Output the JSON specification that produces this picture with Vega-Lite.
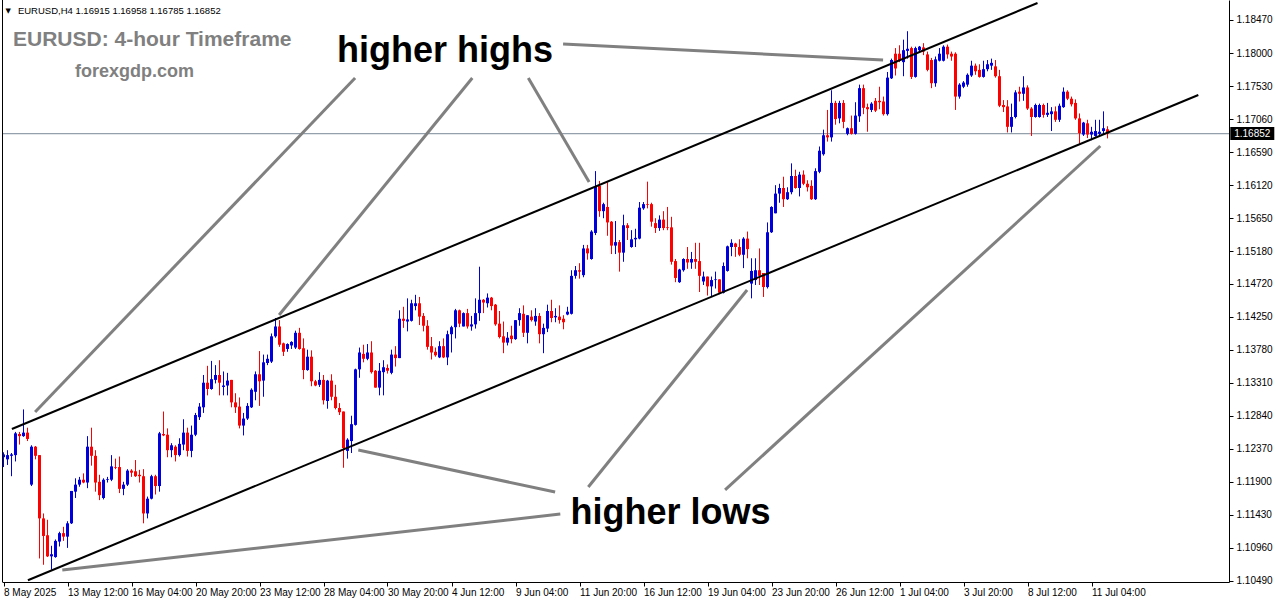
{
"$schema": "https://vega.github.io/schema/vega-lite/v6.json",
"width": 1227, "height": 582,
"autosize": {"type": "none"},
"padding": {"left": 2, "top": 0, "right": 47, "bottom": 22},
"background": "white",
"config": {"view": {"stroke": null},
 "axisRight": {"labelOverlap": false, "labelFlush": false, "labelFont": "Liberation Sans", "labelFontSize": 10, "labelColor": "black", "tickSize": 4, "labelPadding": 3, "domainColor": "black", "tickColor": "black", "grid": false},
 "axisBottom": {"labelOverlap": false, "labelFlush": false, "labelFont": "Liberation Sans", "labelFontSize": 10, "labelColor": "black", "tickSize": 4, "labelPadding": 1, "labelAlign": "left", "labelOffset": 0, "domainColor": "black", "tickColor": "black", "grid": false}},
"datasets": {
"candles": [
{"i":1,"o":1.1225,"h":1.1232,"l":1.1211,"c":1.1229},{"i":2,"o":1.1222,"h":1.1235,"l":1.1214,"c":1.1228},{"i":3,"o":1.1227,"h":1.1231,"l":1.1198,"c":1.1229},{"i":4,"o":1.1228,"h":1.1261,"l":1.1219,"c":1.1259},{"i":5,"o":1.1258,"h":1.1261,"l":1.1243,"c":1.1255},{"i":6,"o":1.1255,"h":1.1293,"l":1.1254,"c":1.1260},{"i":7,"o":1.1260,"h":1.1267,"l":1.1248,"c":1.1251},{"i":8,"o":1.1186,"h":1.1242,"l":1.1184,"c":1.1240},{"i":9,"o":1.1240,"h":1.1241,"l":1.1222,"c":1.1227},{"i":10,"o":1.1228,"h":1.1228,"l":1.1081,"c":1.1138},
{"i":11,"o":1.1138,"h":1.1145,"l":1.1072,"c":1.1113},{"i":12,"o":1.1114,"h":1.1136,"l":1.1083,"c":1.1084},{"i":13,"o":1.1084,"h":1.1099,"l":1.1065,"c":1.1087},{"i":14,"o":1.1083,"h":1.1108,"l":1.1082,"c":1.1106},{"i":15,"o":1.1105,"h":1.1119,"l":1.1098,"c":1.1117},{"i":16,"o":1.1117,"h":1.1126,"l":1.1106,"c":1.1112},{"i":17,"o":1.1112,"h":1.1134,"l":1.1096,"c":1.1131},{"i":18,"o":1.1131,"h":1.1177,"l":1.1130,"c":1.1177},{"i":19,"o":1.1176,"h":1.1195,"l":1.1167,"c":1.1186},{"i":20,"o":1.1186,"h":1.1197,"l":1.1183,"c":1.1193},
{"i":21,"o":1.1193,"h":1.1202,"l":1.1188,"c":1.1189},{"i":22,"o":1.1189,"h":1.1255,"l":1.1181,"c":1.1240},{"i":23,"o":1.1240,"h":1.1267,"l":1.1213,"c":1.1227},{"i":24,"o":1.1227,"h":1.1235,"l":1.1176,"c":1.1189},{"i":25,"o":1.1190,"h":1.1200,"l":1.1164,"c":1.1171},{"i":26,"o":1.1167,"h":1.1195,"l":1.1165,"c":1.1193},{"i":27,"o":1.1193,"h":1.1197,"l":1.1189,"c":1.1194},{"i":28,"o":1.1193,"h":1.1228,"l":1.1191,"c":1.1212},{"i":29,"o":1.1211,"h":1.1223,"l":1.1208,"c":1.1210},{"i":30,"o":1.1211,"h":1.1226,"l":1.1174,"c":1.1180},
{"i":31,"o":1.1180,"h":1.1190,"l":1.1171,"c":1.1186},{"i":32,"o":1.1186,"h":1.1208,"l":1.1184,"c":1.1206},{"i":33,"o":1.1206,"h":1.1208,"l":1.1197,"c":1.1203},{"i":34,"o":1.1205,"h":1.1221,"l":1.1197,"c":1.1198},{"i":35,"o":1.1200,"h":1.1207,"l":1.1189,"c":1.1198},{"i":36,"o":1.1198,"h":1.1208,"l":1.1131,"c":1.1145},{"i":37,"o":1.1145,"h":1.1169,"l":1.1138,"c":1.1166},{"i":38,"o":1.1166,"h":1.1200,"l":1.1165,"c":1.1198},{"i":39,"o":1.1198,"h":1.1200,"l":1.1172,"c":1.1184},{"i":40,"o":1.1184,"h":1.1261,"l":1.1176,"c":1.1259},
{"i":41,"o":1.1258,"h":1.1290,"l":1.1255,"c":1.1256},{"i":42,"o":1.1257,"h":1.1266,"l":1.1225,"c":1.1235},{"i":43,"o":1.1235,"h":1.1245,"l":1.1225,"c":1.1242},{"i":44,"o":1.1240,"h":1.1242,"l":1.1219,"c":1.1228},{"i":45,"o":1.1228,"h":1.1252,"l":1.1226,"c":1.1244},{"i":46,"o":1.1243,"h":1.1279,"l":1.1235,"c":1.1260},{"i":47,"o":1.1260,"h":1.1267,"l":1.1226,"c":1.1234},{"i":48,"o":1.1234,"h":1.1270,"l":1.1225,"c":1.1257},{"i":49,"o":1.1257,"h":1.1288,"l":1.1255,"c":1.1285},{"i":50,"o":1.1282,"h":1.1302,"l":1.1278,"c":1.1297},
{"i":51,"o":1.1296,"h":1.1342,"l":1.1288,"c":1.1331},{"i":52,"o":1.1331,"h":1.1355,"l":1.1313,"c":1.1322},{"i":53,"o":1.1322,"h":1.1362,"l":1.1321,"c":1.1336},{"i":54,"o":1.1335,"h":1.1356,"l":1.1330,"c":1.1342},{"i":55,"o":1.1342,"h":1.1363,"l":1.1313,"c":1.1331},{"i":56,"o":1.1325,"h":1.1347,"l":1.1313,"c":1.1327},{"i":57,"o":1.1327,"h":1.1345,"l":1.1313,"c":1.1334},{"i":58,"o":1.1335,"h":1.1335,"l":1.1296,"c":1.1303},{"i":59,"o":1.1303,"h":1.1316,"l":1.1288,"c":1.1296},{"i":60,"o":1.1297,"h":1.1310,"l":1.1266,"c":1.1270},
{"i":61,"o":1.1270,"h":1.1288,"l":1.1256,"c":1.1280},{"i":62,"o":1.1280,"h":1.1302,"l":1.1278,"c":1.1298},{"i":63,"o":1.1296,"h":1.1323,"l":1.1295,"c":1.1321},{"i":64,"o":1.1318,"h":1.1347,"l":1.1306,"c":1.1343},{"i":65,"o":1.1343,"h":1.1376,"l":1.1298,"c":1.1333},{"i":66,"o":1.1334,"h":1.1371,"l":1.1311,"c":1.1360},{"i":67,"o":1.1359,"h":1.1371,"l":1.1356,"c":1.1365},{"i":68,"o":1.1361,"h":1.1401,"l":1.1359,"c":1.1397},{"i":69,"o":1.1397,"h":1.1423,"l":1.1395,"c":1.1411},{"i":70,"o":1.1411,"h":1.1420,"l":1.1382,"c":1.1385},
{"i":71,"o":1.1387,"h":1.1388,"l":1.1369,"c":1.1375},{"i":72,"o":1.1379,"h":1.1387,"l":1.1375,"c":1.1386},{"i":73,"o":1.1384,"h":1.1390,"l":1.1379,"c":1.1389},{"i":74,"o":1.1381,"h":1.1405,"l":1.1379,"c":1.1402},{"i":75,"o":1.1402,"h":1.1409,"l":1.1378,"c":1.1379},{"i":76,"o":1.1380,"h":1.1394,"l":1.1336,"c":1.1349},{"i":77,"o":1.1349,"h":1.1378,"l":1.1348,"c":1.1368},{"i":78,"o":1.1368,"h":1.1377,"l":1.1326,"c":1.1333},{"i":79,"o":1.1333,"h":1.1335,"l":1.1326,"c":1.1327},{"i":80,"o":1.1328,"h":1.1346,"l":1.1325,"c":1.1335},
{"i":81,"o":1.1335,"h":1.1342,"l":1.1300,"c":1.1306},{"i":82,"o":1.1305,"h":1.1335,"l":1.1294,"c":1.1334},{"i":83,"o":1.1334,"h":1.1343,"l":1.1306,"c":1.1311},{"i":84,"o":1.1311,"h":1.1328,"l":1.1293,"c":1.1295},{"i":85,"o":1.1295,"h":1.1302,"l":1.1285,"c":1.1289},{"i":86,"o":1.1290,"h":1.1290,"l":1.1210,"c":1.1238},{"i":87,"o":1.1234,"h":1.1252,"l":1.1223,"c":1.1250},{"i":88,"o":1.1248,"h":1.1284,"l":1.1231,"c":1.1272},{"i":89,"o":1.1271,"h":1.1351,"l":1.1270,"c":1.1350},{"i":90,"o":1.1350,"h":1.1381,"l":1.1338,"c":1.1374},
{"i":91,"o":1.1372,"h":1.1385,"l":1.1360,"c":1.1365},{"i":92,"o":1.1365,"h":1.1386,"l":1.1363,"c":1.1374},{"i":93,"o":1.1374,"h":1.1390,"l":1.1344,"c":1.1346},{"i":94,"o":1.1348,"h":1.1349,"l":1.1324,"c":1.1324},{"i":95,"o":1.1324,"h":1.1359,"l":1.1313,"c":1.1348},{"i":96,"o":1.1346,"h":1.1363,"l":1.1313,"c":1.1353},{"i":97,"o":1.1352,"h":1.1357,"l":1.1344,"c":1.1348},{"i":98,"o":1.1345,"h":1.1378,"l":1.1343,"c":1.1371},{"i":99,"o":1.1371,"h":1.1383,"l":1.1354,"c":1.1366},{"i":100,"o":1.1366,"h":1.1434,"l":1.1366,"c":1.1422},
{"i":101,"o":1.1422,"h":1.1439,"l":1.1409,"c":1.1419},{"i":102,"o":1.1418,"h":1.1451,"l":1.1404,"c":1.1421},{"i":103,"o":1.1419,"h":1.1449,"l":1.1418,"c":1.1444},{"i":104,"o":1.1440,"h":1.1456,"l":1.1434,"c":1.1444},{"i":105,"o":1.1444,"h":1.1453,"l":1.1413,"c":1.1425},{"i":106,"o":1.1426,"h":1.1430,"l":1.1404,"c":1.1412},{"i":107,"o":1.1412,"h":1.1420,"l":1.1378,"c":1.1382},{"i":108,"o":1.1383,"h":1.1396,"l":1.1364,"c":1.1374},{"i":109,"o":1.1375,"h":1.1381,"l":1.1368,"c":1.1370},{"i":110,"o":1.1367,"h":1.1390,"l":1.1366,"c":1.1383},
{"i":111,"o":1.1383,"h":1.1394,"l":1.1366,"c":1.1367},{"i":112,"o":1.1367,"h":1.1405,"l":1.1356,"c":1.1400},{"i":113,"o":1.1400,"h":1.1412,"l":1.1374,"c":1.1410},{"i":114,"o":1.1410,"h":1.1436,"l":1.1394,"c":1.1434},{"i":115,"o":1.1434,"h":1.1435,"l":1.1410,"c":1.1415},{"i":116,"o":1.1411,"h":1.1431,"l":1.1411,"c":1.1430},{"i":117,"o":1.1430,"h":1.1436,"l":1.1408,"c":1.1411},{"i":118,"o":1.1411,"h":1.1426,"l":1.1405,"c":1.1414},{"i":119,"o":1.1414,"h":1.1451,"l":1.1408,"c":1.1430},{"i":120,"o":1.1430,"h":1.1496,"l":1.1419,"c":1.1449},
{"i":121,"o":1.1449,"h":1.1450,"l":1.1430,"c":1.1445},{"i":122,"o":1.1444,"h":1.1458,"l":1.1438,"c":1.1452},{"i":123,"o":1.1452,"h":1.1453,"l":1.1434,"c":1.1440},{"i":124,"o":1.1442,"h":1.1443,"l":1.1412,"c":1.1414},{"i":125,"o":1.1415,"h":1.1433,"l":1.1394,"c":1.1396},{"i":126,"o":1.1397,"h":1.1418,"l":1.1373,"c":1.1388},{"i":127,"o":1.1388,"h":1.1403,"l":1.1384,"c":1.1395},{"i":128,"o":1.1398,"h":1.1412,"l":1.1387,"c":1.1393},{"i":129,"o":1.1393,"h":1.1420,"l":1.1392,"c":1.1420},{"i":130,"o":1.1420,"h":1.1437,"l":1.1412,"c":1.1430},
{"i":131,"o":1.1429,"h":1.1441,"l":1.1396,"c":1.1402},{"i":132,"o":1.1402,"h":1.1427,"l":1.1387,"c":1.1427},{"i":133,"o":1.1425,"h":1.1434,"l":1.1418,"c":1.1420},{"i":134,"o":1.1418,"h":1.1437,"l":1.1412,"c":1.1426},{"i":135,"o":1.1426,"h":1.1430,"l":1.1387,"c":1.1400},{"i":136,"o":1.1400,"h":1.1415,"l":1.1373,"c":1.1409},{"i":137,"o":1.1408,"h":1.1442,"l":1.1403,"c":1.1433},{"i":138,"o":1.1433,"h":1.1449,"l":1.1417,"c":1.1423},{"i":139,"o":1.1424,"h":1.1437,"l":1.1417,"c":1.1426},{"i":140,"o":1.1425,"h":1.1441,"l":1.1415,"c":1.1420},
{"i":141,"o":1.1422,"h":1.1427,"l":1.1407,"c":1.1417},{"i":142,"o":1.1428,"h":1.1439,"l":1.1427,"c":1.1432},{"i":143,"o":1.1429,"h":1.1491,"l":1.1428,"c":1.1483},{"i":144,"o":1.1483,"h":1.1497,"l":1.1479,"c":1.1491},{"i":145,"o":1.1491,"h":1.1501,"l":1.1479,"c":1.1489},{"i":146,"o":1.1484,"h":1.1527,"l":1.1481,"c":1.1522},{"i":147,"o":1.1522,"h":1.1527,"l":1.1506,"c":1.1515},{"i":148,"o":1.1507,"h":1.1548,"l":1.1506,"c":1.1546},{"i":149,"o":1.1544,"h":1.1632,"l":1.1541,"c":1.1610},{"i":150,"o":1.1611,"h":1.1618,"l":1.1567,"c":1.1575},
{"i":151,"o":1.1575,"h":1.1587,"l":1.1565,"c":1.1585},{"i":152,"o":1.1581,"h":1.1616,"l":1.1540,"c":1.1559},{"i":153,"o":1.1560,"h":1.1561,"l":1.1514,"c":1.1526},{"i":154,"o":1.1526,"h":1.1561,"l":1.1514,"c":1.1531},{"i":155,"o":1.1531,"h":1.1534,"l":1.1489,"c":1.1516},{"i":156,"o":1.1516,"h":1.1570,"l":1.1503,"c":1.1555},{"i":157,"o":1.1555,"h":1.1558,"l":1.1534,"c":1.1551},{"i":158,"o":1.1524,"h":1.1548,"l":1.1523,"c":1.1535},{"i":159,"o":1.1535,"h":1.1550,"l":1.1524,"c":1.1537},{"i":160,"o":1.1536,"h":1.1588,"l":1.1535,"c":1.1580},
{"i":161,"o":1.1579,"h":1.1588,"l":1.1577,"c":1.1585},{"i":162,"o":1.1585,"h":1.1617,"l":1.1579,"c":1.1584},{"i":163,"o":1.1585,"h":1.1587,"l":1.1553,"c":1.1560},{"i":164,"o":1.1558,"h":1.1565,"l":1.1544,"c":1.1551},{"i":165,"o":1.1551,"h":1.1569,"l":1.1547,"c":1.1563},{"i":166,"o":1.1563,"h":1.1575,"l":1.1548,"c":1.1551},{"i":167,"o":1.1552,"h":1.1581,"l":1.1548,"c":1.1551},{"i":168,"o":1.1552,"h":1.1567,"l":1.1499,"c":1.1503},{"i":169,"o":1.1504,"h":1.1507,"l":1.1474,"c":1.1480},{"i":170,"o":1.1474,"h":1.1493,"l":1.1473,"c":1.1492},
{"i":171,"o":1.1491,"h":1.1508,"l":1.1489,"c":1.1507},{"i":172,"o":1.1507,"h":1.1524,"l":1.1493,"c":1.1502},{"i":173,"o":1.1502,"h":1.1517,"l":1.1493,"c":1.1507},{"i":174,"o":1.1507,"h":1.1530,"l":1.1493,"c":1.1503},{"i":175,"o":1.1504,"h":1.1530,"l":1.1460,"c":1.1483},{"i":176,"o":1.1475,"h":1.1489,"l":1.1470,"c":1.1482},{"i":177,"o":1.1482,"h":1.1482,"l":1.1455,"c":1.1468},{"i":178,"o":1.1468,"h":1.1482,"l":1.1453,"c":1.1477},{"i":179,"o":1.1477,"h":1.1489,"l":1.1465,"c":1.1478},{"i":180,"o":1.1478,"h":1.1478,"l":1.1457,"c":1.1459},
{"i":181,"o":1.1459,"h":1.1502,"l":1.1458,"c":1.1497},{"i":182,"o":1.1490,"h":1.1526,"l":1.1489,"c":1.1525},{"i":183,"o":1.1524,"h":1.1535,"l":1.1511,"c":1.1530},{"i":184,"o":1.1529,"h":1.1530,"l":1.1510,"c":1.1524},{"i":185,"o":1.1524,"h":1.1535,"l":1.1511,"c":1.1513},{"i":186,"o":1.1513,"h":1.1538,"l":1.1494,"c":1.1536},{"i":187,"o":1.1536,"h":1.1546,"l":1.1508,"c":1.1521},{"i":188,"o":1.1472,"h":1.1508,"l":1.1451,"c":1.1490},{"i":189,"o":1.1477,"h":1.1508,"l":1.1470,"c":1.1491},{"i":190,"o":1.1491,"h":1.1522,"l":1.1470,"c":1.1483},
{"i":191,"o":1.1487,"h":1.1487,"l":1.1453,"c":1.1467},{"i":192,"o":1.1467,"h":1.1559,"l":1.1465,"c":1.1545},{"i":193,"o":1.1545,"h":1.1582,"l":1.1544,"c":1.1581},{"i":194,"o":1.1572,"h":1.1612,"l":1.1572,"c":1.1600},{"i":195,"o":1.1600,"h":1.1614,"l":1.1587,"c":1.1608},{"i":196,"o":1.1608,"h":1.1624,"l":1.1581,"c":1.1592},{"i":197,"o":1.1592,"h":1.1609,"l":1.1591,"c":1.1602},{"i":198,"o":1.1602,"h":1.1643,"l":1.1599,"c":1.1625},{"i":199,"o":1.1625,"h":1.1634,"l":1.1607,"c":1.1608},{"i":200,"o":1.1608,"h":1.1631,"l":1.1596,"c":1.1627},
{"i":201,"o":1.1627,"h":1.1633,"l":1.1612,"c":1.1614},{"i":202,"o":1.1614,"h":1.1619,"l":1.1603,"c":1.1609},{"i":203,"o":1.1611,"h":1.1619,"l":1.1591,"c":1.1592},{"i":204,"o":1.1592,"h":1.1636,"l":1.1591,"c":1.1632},{"i":205,"o":1.1631,"h":1.1667,"l":1.1629,"c":1.1661},{"i":206,"o":1.1656,"h":1.1691,"l":1.1654,"c":1.1683},{"i":207,"o":1.1683,"h":1.1719,"l":1.1674,"c":1.1680},{"i":208,"o":1.1680,"h":1.1747,"l":1.1674,"c":1.1729},{"i":209,"o":1.1729,"h":1.1732,"l":1.1698,"c":1.1706},{"i":210,"o":1.1707,"h":1.1732,"l":1.1700,"c":1.1729},
{"i":211,"o":1.1729,"h":1.1733,"l":1.1693,"c":1.1702},{"i":212,"o":1.1685,"h":1.1694,"l":1.1683,"c":1.1693},{"i":213,"o":1.1693,"h":1.1711,"l":1.1684,"c":1.1685},{"i":214,"o":1.1685,"h":1.1730,"l":1.1684,"c":1.1711},{"i":215,"o":1.1710,"h":1.1755,"l":1.1702,"c":1.1750},{"i":216,"o":1.1750,"h":1.1755,"l":1.1713,"c":1.1722},{"i":217,"o":1.1723,"h":1.1728,"l":1.1688,"c":1.1720},{"i":218,"o":1.1719,"h":1.1730,"l":1.1716,"c":1.1728},{"i":219,"o":1.1732,"h":1.1736,"l":1.1716,"c":1.1718},{"i":220,"o":1.1732,"h":1.1752,"l":1.1720,"c":1.1730},
{"i":221,"o":1.1731,"h":1.1738,"l":1.1711,"c":1.1713},{"i":222,"o":1.1713,"h":1.1773,"l":1.1711,"c":1.1765},{"i":223,"o":1.1764,"h":1.1792,"l":1.1763,"c":1.1790},{"i":224,"o":1.1799,"h":1.1807,"l":1.1768,"c":1.1778},{"i":225,"o":1.1799,"h":1.1811,"l":1.1787,"c":1.1790},{"i":226,"o":1.1787,"h":1.1819,"l":1.1767,"c":1.1804},{"i":227,"o":1.1803,"h":1.1831,"l":1.1792,"c":1.1806},{"i":228,"o":1.1807,"h":1.1809,"l":1.1763,"c":1.1766},{"i":229,"o":1.1766,"h":1.1809,"l":1.1765,"c":1.1807},{"i":230,"o":1.1804,"h":1.1810,"l":1.1802,"c":1.1809},
{"i":231,"o":1.1808,"h":1.1814,"l":1.1797,"c":1.1802},{"i":232,"o":1.1798,"h":1.1802,"l":1.1774,"c":1.1776},{"i":233,"o":1.1790,"h":1.1793,"l":1.1750,"c":1.1757},{"i":234,"o":1.1757,"h":1.1795,"l":1.1752,"c":1.1791},{"i":235,"o":1.1789,"h":1.1807,"l":1.1788,"c":1.1799},{"i":236,"o":1.1789,"h":1.1811,"l":1.1788,"c":1.1809},{"i":237,"o":1.1809,"h":1.1812,"l":1.1792,"c":1.1798},{"i":238,"o":1.1799,"h":1.1802,"l":1.1789,"c":1.1795},{"i":239,"o":1.1799,"h":1.1801,"l":1.1719,"c":1.1738},{"i":240,"o":1.1738,"h":1.1757,"l":1.1735,"c":1.1755},
{"i":241,"o":1.1752,"h":1.1760,"l":1.1750,"c":1.1758},{"i":242,"o":1.1755,"h":1.1771,"l":1.1752,"c":1.1769},{"i":243,"o":1.1768,"h":1.1789,"l":1.1766,"c":1.1782},{"i":244,"o":1.1782,"h":1.1785,"l":1.1769,"c":1.1774},{"i":245,"o":1.1776,"h":1.1784,"l":1.1765,"c":1.1766},{"i":246,"o":1.1766,"h":1.1789,"l":1.1765,"c":1.1777},{"i":247,"o":1.1777,"h":1.1790,"l":1.1774,"c":1.1784},{"i":248,"o":1.1782,"h":1.1792,"l":1.1776,"c":1.1786},{"i":249,"o":1.1781,"h":1.1790,"l":1.1765,"c":1.1767},{"i":250,"o":1.1767,"h":1.1776,"l":1.1723,"c":1.1725},
{"i":251,"o":1.1726,"h":1.1733,"l":1.1716,"c":1.1723},{"i":252,"o":1.1724,"h":1.1733,"l":1.1687,"c":1.1695},{"i":253,"o":1.1695,"h":1.1728,"l":1.1687,"c":1.1709},{"i":254,"o":1.1709,"h":1.1747,"l":1.1707,"c":1.1744},{"i":255,"o":1.1745,"h":1.1752,"l":1.1731,"c":1.1742},{"i":256,"o":1.1742,"h":1.1767,"l":1.1732,"c":1.1751},{"i":257,"o":1.1751,"h":1.1754,"l":1.1719,"c":1.1721},{"i":258,"o":1.1721,"h":1.1723,"l":1.1682,"c":1.1709},{"i":259,"o":1.1709,"h":1.1728,"l":1.1708,"c":1.1726},{"i":260,"o":1.1709,"h":1.1728,"l":1.1708,"c":1.1726},
{"i":261,"o":1.1726,"h":1.1728,"l":1.1708,"c":1.1712},{"i":262,"o":1.1712,"h":1.1729,"l":1.1709,"c":1.1715},{"i":263,"o":1.1713,"h":1.1723,"l":1.1689,"c":1.1717},{"i":264,"o":1.1717,"h":1.1724,"l":1.1702,"c":1.1705},{"i":265,"o":1.1705,"h":1.1728,"l":1.1702,"c":1.1725},{"i":266,"o":1.1723,"h":1.1751,"l":1.1722,"c":1.1745},{"i":267,"o":1.1745,"h":1.1747,"l":1.1733,"c":1.1735},{"i":268,"o":1.1735,"h":1.1738,"l":1.1724,"c":1.1727},{"i":269,"o":1.1729,"h":1.1734,"l":1.1705,"c":1.1707},{"i":270,"o":1.1707,"h":1.1714,"l":1.1671,"c":1.1686},
{"i":271,"o":1.1684,"h":1.1702,"l":1.1682,"c":1.1701},{"i":272,"o":1.1700,"h":1.1705,"l":1.1679,"c":1.1684},{"i":273,"o":1.1684,"h":1.1695,"l":1.1676,"c":1.1688},{"i":274,"o":1.1682,"h":1.1705,"l":1.1681,"c":1.1689},{"i":275,"o":1.1685,"h":1.1705,"l":1.1681,"c":1.1688},{"i":276,"o":1.1689,"h":1.1717,"l":1.1684,"c":1.1693},{"i":277,"o":1.16915,"h":1.16958,"l":1.16785,"c":1.16852}
],
"channel": [
{"g":"upper","i":3.1,"p":1.12652},{"g":"upper","i":259.5,"p":1.18711},
{"g":"lower","i":7.1,"p":1.1050},{"g":"lower","i":299.7,"p":1.17403}
],
"pointers": [
{"g":1,"i":88.9,"p":1.17644},{"g":1,"i":8.9,"p":1.12893},
{"g":2,"i":118.2,"p":1.17644},{"g":2,"i":69.9,"p":1.14273},
{"g":3,"i":132.2,"p":1.17644},{"g":3,"i":147.4,"p":1.16165},
{"g":4,"i":140.9,"p":1.18128},{"g":4,"i":220.9,"p":1.17901},
{"g":5,"i":138.9,"p":1.11755},{"g":5,"i":89.7,"p":1.12353},
{"g":6,"i":140.2,"p":1.11442},{"g":6,"i":15.7,"p":1.10646},
{"g":7,"i":147.2,"p":1.11827},{"g":7,"i":186.9,"p":1.14629},
{"g":8,"i":181.4,"p":1.11784},{"g":8,"i":275.2,"p":1.16677}
],
"labels": [
{"t":"higher highs","i":111.4,"p":1.17872},
{"t":"higher lows","i":167.75,"p":1.1130}
],
"one": [{"n":1}]
},
"layer": [
{
"data": {"name": "one"},
"mark": {"type": "rule", "color": "#7a8898", "strokeWidth": 1},
"encoding": {"y": {"datum": 1.16852, "type": "quantitative", "title": null, "scale": {"type": "linear", "domain": [1.10475, 1.18754], "nice": false, "zero": false},
 "axis": {"orient": "right", "title": null, "values": [1.1847,1.18,1.1753,1.1706,1.1659,1.1612,1.1565,1.1518,1.1472,1.1425,1.1378,1.1331,1.1284,1.1237,1.119,1.1143,1.1096,1.1049], "format": ".5f", "labelOverlap": false, "labelFlush": false}}}
},
{
"data": {"name": "candles"},
"mark": {"type": "rule", "strokeWidth": 1},
"encoding": {
 "x": {"field": "i", "type": "quantitative", "scale": {"type": "linear", "domain": [0.625, 307.375], "nice": false, "zero": false}, "title": null,
  "axis": {"values": [1,17,33,49,65,81,97,113,129,145,161,177,193,209,225,241,257,273], "labelExpr": "['8 May 2025','13 May 12:00','16 May 04:00','20 May 20:00','23 May 12:00','28 May 04:00','30 May 20:00','4 Jun 12:00','9 Jun 04:00','11 Jun 20:00','16 Jun 12:00','19 Jun 04:00','23 Jun 20:00','26 Jun 12:00','1 Jul 04:00','3 Jul 20:00','8 Jul 12:00','11 Jul 04:00'][round((datum.value-1)/16)]", "labelOverlap": false, "labelFlush": false, "labelAlign": "left"}},
 "y": {"field": "l", "type": "quantitative", "title": null,
  "axis": {"orient": "right", "title": null, "values": [1.1847,1.18,1.1753,1.1706,1.1659,1.1612,1.1565,1.1518,1.1472,1.1425,1.1378,1.1331,1.1284,1.1237,1.119,1.1143,1.1096,1.1049], "format": ".5f", "labelOverlap": false, "labelFlush": false}},
 "y2": {"field": "h"},
 "color": {"condition": {"test": "datum.c >= datum.o", "value": "#0000dd"}, "value": "#ff0000"}
}
},
{
"data": {"name": "candles"},
"mark": {"type": "rule", "strokeWidth": 3, "strokeCap": "butt"},
"encoding": {
 "x": {"field": "i", "type": "quantitative", "title": null},
 "y": {"field": "o", "type": "quantitative", "title": null,
  "axis": {"orient": "right", "title": null, "values": [1.1847,1.18,1.1753,1.1706,1.1659,1.1612,1.1565,1.1518,1.1472,1.1425,1.1378,1.1331,1.1284,1.1237,1.119,1.1143,1.1096,1.1049], "format": ".5f", "labelOverlap": false, "labelFlush": false}},
 "y2": {"field": "c"},
 "color": {"condition": {"test": "datum.c >= datum.o", "value": "#0000dd"}, "value": "#ff0000"}
}
},
{
"data": {"name": "channel"},
"mark": {"type": "line", "color": "black", "strokeWidth": 2},
"encoding": {
 "x": {"field": "i", "type": "quantitative", "title": null},
 "y": {"field": "p", "type": "quantitative", "title": null,
  "axis": {"orient": "right", "title": null, "values": [1.1847,1.18,1.1753,1.1706,1.1659,1.1612,1.1565,1.1518,1.1472,1.1425,1.1378,1.1331,1.1284,1.1237,1.119,1.1143,1.1096,1.1049], "format": ".5f", "labelOverlap": false, "labelFlush": false}},
 "detail": {"field": "g"}
}
},
{
"data": {"name": "pointers"},
"mark": {"type": "line", "color": "#808080", "strokeWidth": 3},
"encoding": {
 "x": {"field": "i", "type": "quantitative", "title": null},
 "y": {"field": "p", "type": "quantitative", "title": null,
  "axis": {"orient": "right", "title": null, "values": [1.1847,1.18,1.1753,1.1706,1.1659,1.1612,1.1565,1.1518,1.1472,1.1425,1.1378,1.1331,1.1284,1.1237,1.119,1.1143,1.1096,1.1049], "format": ".5f", "labelOverlap": false, "labelFlush": false}},
 "detail": {"field": "g"}
}
},
{
"data": {"name": "labels"},
"mark": {"type": "text", "font": "Liberation Sans", "fontWeight": "bold", "fontSize": 36, "align": "center", "baseline": "alphabetic", "color": "black"},
"encoding": {
 "x": {"field": "i", "type": "quantitative", "title": null},
 "y": {"field": "p", "type": "quantitative", "title": null,
  "axis": {"orient": "right", "title": null, "values": [1.1847,1.18,1.1753,1.1706,1.1659,1.1612,1.1565,1.1518,1.1472,1.1425,1.1378,1.1331,1.1284,1.1237,1.119,1.1143,1.1096,1.1049], "format": ".5f", "labelOverlap": false, "labelFlush": false}},
 "text": {"field": "t"}
}
},
{
"data": {"name": "one"},
"mark": {"type": "text", "font": "Liberation Sans", "fontWeight": "bold", "fontSize": 21, "align": "left", "baseline": "alphabetic", "color": "#808080"},
"encoding": {"x": {"datum": 3.375, "type": "quantitative"}, "y": {"datum": 1.1810, "type": "quantitative", "title": null,
  "axis": {"orient": "right", "title": null, "values": [1.1847,1.18,1.1753,1.1706,1.1659,1.1612,1.1565,1.1518,1.1472,1.1425,1.1378,1.1331,1.1284,1.1237,1.119,1.1143,1.1096,1.1049], "format": ".5f", "labelOverlap": false, "labelFlush": false}}, "text": {"value": "EURUSD: 4-hour Timeframe"}}
},
{
"data": {"name": "one"},
"mark": {"type": "text", "font": "Liberation Sans", "fontWeight": "bold", "fontSize": 18, "align": "left", "baseline": "alphabetic", "color": "#808080"},
"encoding": {"x": {"datum": 18.875, "type": "quantitative"}, "y": {"datum": 1.17659, "type": "quantitative", "title": null,
  "axis": {"orient": "right", "title": null, "values": [1.1847,1.18,1.1753,1.1706,1.1659,1.1612,1.1565,1.1518,1.1472,1.1425,1.1378,1.1331,1.1284,1.1237,1.119,1.1143,1.1096,1.1049], "format": ".5f", "labelOverlap": false, "labelFlush": false}}, "text": {"value": "forexgdp.com"}}
},
{
"data": {"name": "one"},
"mark": {"type": "text", "font": "Liberation Sans", "fontSize": 9.5, "align": "left", "baseline": "alphabetic", "color": "black"},
"encoding": {"x": {"datum": 4.6, "type": "quantitative"}, "y": {"datum": 1.18555, "type": "quantitative", "title": null,
  "axis": {"orient": "right", "title": null, "values": [1.1847,1.18,1.1753,1.1706,1.1659,1.1612,1.1565,1.1518,1.1472,1.1425,1.1378,1.1331,1.1284,1.1237,1.119,1.1143,1.1096,1.1049], "format": ".5f", "labelOverlap": false, "labelFlush": false}}, "text": {"value": "EURUSD,H4  1.16915 1.16958 1.16785 1.16852"}}
},
{
"data": {"name": "one"},
"mark": {"type": "text", "font": "DejaVu Sans", "fontSize": 7, "align": "left", "baseline": "alphabetic", "color": "black"},
"encoding": {"x": {"datum": 1.5, "type": "quantitative"}, "y": {"datum": 1.18569, "type": "quantitative", "title": null,
  "axis": {"orient": "right", "title": null, "values": [1.1847,1.18,1.1753,1.1706,1.1659,1.1612,1.1565,1.1518,1.1472,1.1425,1.1378,1.1331,1.1284,1.1237,1.119,1.1143,1.1096,1.1049], "format": ".5f", "labelOverlap": false, "labelFlush": false}}, "text": {"value": "▼"}}
},
{
"data": {"name": "one"},
"mark": {"type": "rule", "color": "black", "strokeWidth": 1},
"encoding": {"x": {"datum": 0.75, "type": "quantitative"}, "y": {"datum": 1.10475, "type": "quantitative", "title": null,
  "axis": {"orient": "right", "title": null, "values": [1.1847,1.18,1.1753,1.1706,1.1659,1.1612,1.1565,1.1518,1.1472,1.1425,1.1378,1.1331,1.1284,1.1237,1.119,1.1143,1.1096,1.1049], "format": ".5f", "labelOverlap": false, "labelFlush": false}}, "y2": {"datum": 1.18754}}
},
{
"data": {"name": "one"},
"mark": {"type": "rect", "color": "black"},
"encoding": {"x": {"datum": 307.7, "type": "quantitative"}, "x2": {"datum": 318.7}, "y": {"datum": 1.16948, "type": "quantitative", "title": null,
  "axis": {"orient": "right", "title": null, "values": [1.1847,1.18,1.1753,1.1706,1.1659,1.1612,1.1565,1.1518,1.1472,1.1425,1.1378,1.1331,1.1284,1.1237,1.119,1.1143,1.1096,1.1049], "format": ".5f", "labelOverlap": false, "labelFlush": false}}, "y2": {"datum": 1.16763}}
},
{
"data": {"name": "one"},
"mark": {"type": "text", "font": "Liberation Sans", "fontSize": 10, "align": "center", "baseline": "middle", "color": "white"},
"encoding": {"x": {"datum": 313.2, "type": "quantitative"}, "y": {"datum": 1.16852, "type": "quantitative", "title": null,
  "axis": {"orient": "right", "title": null, "values": [1.1847,1.18,1.1753,1.1706,1.1659,1.1612,1.1565,1.1518,1.1472,1.1425,1.1378,1.1331,1.1284,1.1237,1.119,1.1143,1.1096,1.1049], "format": ".5f", "labelOverlap": false, "labelFlush": false}}, "text": {"value": "1.16852"}}
}
]
}
